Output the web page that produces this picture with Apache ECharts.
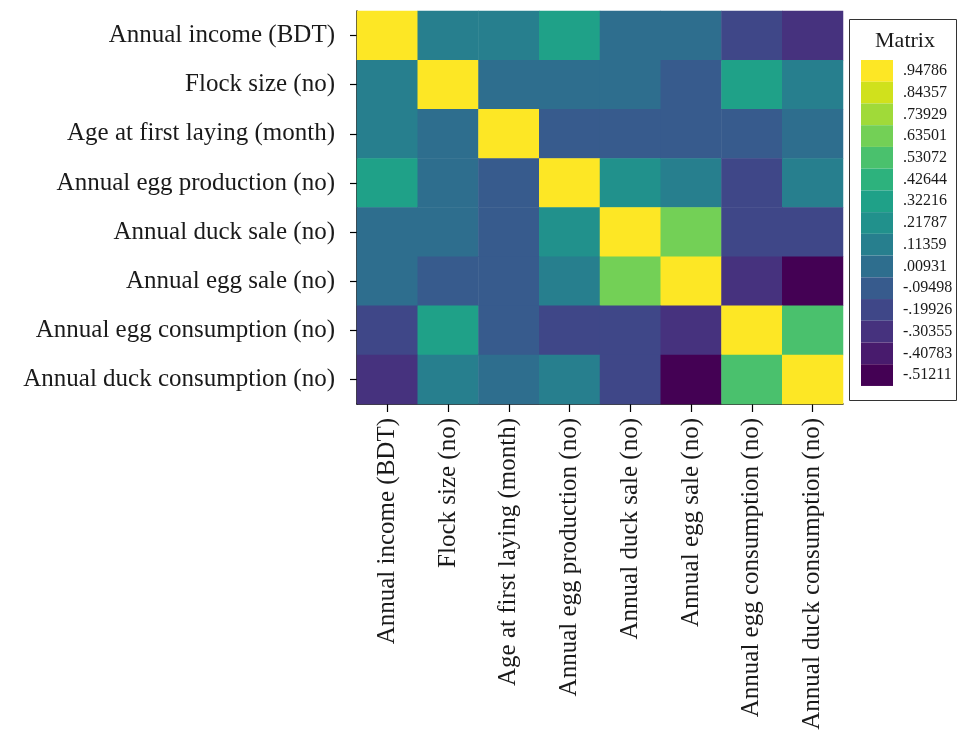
<!DOCTYPE html>
<html>
<head>
<meta charset="utf-8">
<script src="https://cdn.jsdelivr.net/npm/echarts@6/dist/echarts.min.js"></script>
<style>
  html, body { margin: 0; padding: 0; background: #fff; }
  #chart { width: 959px; height: 747px; }
</style>
</head>
<body>
<div id="chart"></div>
<script>
// variables, same order on both axes
const variables = [
  'Annual income (BDT)',
  'Flock size (no)',
  'Age at first laying (month)',
  'Annual egg production (no)',
  'Annual duck sale (no)',
  'Annual egg sale (no)',
  'Annual egg consumption (no)',
  'Annual duck consumption (no)'
]

// correlation rows
const rowIncome = [1, 0.12, 0.10, 0.33, 0.02, 0.01, -0.19, -0.30]
const rowFlock = [0.12, 1, 0.03, 0.04, 0.00, -0.08, 0.31, 0.11]
const rowAge = [0.10, 0.03, 1, -0.10, -0.07, -0.09, -0.06, 0.02]
const rowEggProd = [0.33, 0.04, -0.10, 1, 0.23, 0.14, -0.18, 0.13]
const rowDuckSale = [0.02, 0.00, -0.07, 0.23, 1, 0.64, -0.20, -0.17]
const rowEggSale = [0.01, -0.08, -0.09, 0.14, 0.64, 1, -0.29, -0.56]
const rowEggCons = [-0.19, 0.31, -0.06, -0.18, -0.20, -0.29, 1, 0.54]
const rowDuckCons = [-0.30, 0.11, 0.02, 0.13, -0.17, -0.56, 0.54, 1]
const matrix = [rowIncome, rowFlock, rowAge, rowEggProd, rowDuckSale, rowEggSale, rowEggCons, rowDuckCons]

// legend band centres (low to high) and their labels
const bandCenters = [-0.51211, -0.40783, -0.30355, -0.19926, -0.09498, 0.00931, 0.11359, 0.21787,
  0.32216, 0.42644, 0.53072, 0.63501, 0.73929, 0.84357, 0.94786]
const bandLabels = ['-.51211', '-.40783', '-.30355', '-.19926', '-.09498', '.00931', '.11359', '.21787',
  '.32216', '.42644', '.53072', '.63501', '.73929', '.84357', '.94786']
const bandColors = ['#440154', '#481b6d', '#46327e', '#3f4788', '#375b8d', '#2e6e8e', '#277f8e', '#21918c',
  '#1fa188', '#2db27d', '#4ac16d', '#73d056', '#a0da39', '#d0e11c', '#fde725']

const serif = 'Liberation Serif'
const halfStep = 0.104284 / 2

var data = []
for (let r = 0; r < matrix.length; r++) {
  for (let c = 0; c < matrix[r].length; c++) {
    data.push([c, r, matrix[r][c]])
  }
}

var pieces = bandCenters.map(function(v, i) {
  return {
    gte: v - halfStep,
    lt: i === bandCenters.length - 1 ? 1.01 : v + halfStep,
    color: bandColors[i],
    label: bandLabels[i]
  }
})

const chart = echarts.init(document.getElementById('chart'))
chart.setOption({
  animation: false,
  grid: {
    left: 357,
    top: 11,
    width: 486,
    height: 393
  },
  xAxis: {
    type: 'category',
    data: variables,
    axisLine: { lineStyle: { color: '#000', width: 1.5 } },
    axisTick: { show: true, alignWithLabel: true, length: 8, lineStyle: { color: '#000', width: 1.2 } },
    axisLabel: {
      rotate: 90,
      margin: 14,
      color: '#1a1a1a',
      fontFamily: serif,
      fontSize: 25,
      interval: 0
    },
    splitLine: { show: false },
    splitArea: { show: false }
  },
  yAxis: {
    type: 'category',
    data: variables,
    inverse: true,
    axisLine: { lineStyle: { color: '#000', width: 1.5 } },
    axisTick: { show: true, alignWithLabel: true, length: 7, lineStyle: { color: '#000', width: 1.2 } },
    axisLabel: {
      margin: 22,
      color: '#1a1a1a',
      fontFamily: serif,
      fontSize: 25,
      interval: 0
    },
    splitLine: { show: false },
    splitArea: { show: false }
  },
  visualMap: {
    type: 'piecewise',
    dimension: 2,
    pieces: pieces,
    orient: 'vertical',
    align: 'left',
    left: 861,
    top: 60,
    padding: 0,
    itemWidth: 32,
    itemHeight: 21.73,
    itemGap: 0,
    itemSymbol: 'rect',
    textGap: 10,
    showLabel: true,
    selectedMode: false,
    textStyle: { color: '#1a1a1a', fontFamily: serif, fontSize: 16 }
  },
  graphic: [
    {
      type: 'rect',
      shape: { x: 849.5, y: 19.5, width: 107, height: 381 },
      style: { fill: 'none', stroke: '#333', lineWidth: 1 }
    },
    {
      type: 'text',
      x: 905,
      y: 30,
      style: {
        text: 'Matrix',
        fill: '#1a1a1a',
        font: '22px "Liberation Serif"',
        textAlign: 'center'
      }
    }
  ],
  series: [{
    type: 'heatmap',
    data: data,
    itemStyle: { borderWidth: 0 },
    emphasis: { disabled: true }
  }]
})
</script>
</body>
</html>
